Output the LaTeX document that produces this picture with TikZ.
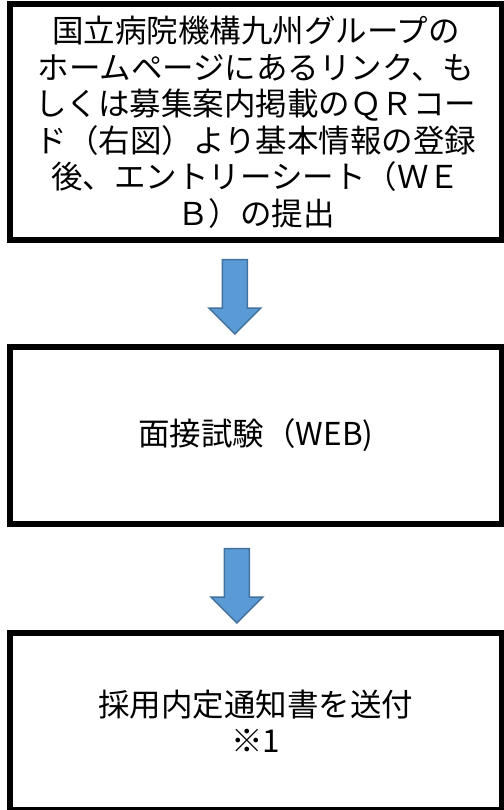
\documentclass[tikz,border=0pt]{standalone}
\usepackage{fontspec}
\newfontfamily\jpfont{Noto Sans CJK JP}
\usepackage{xcolor}
\definecolor{arrowblue}{HTML}{5B9BD5}
\definecolor{arrowedge}{HTML}{41719C}
\usetikzlibrary{positioning,calc}

\tikzset{
  stepbox/.style={draw=black, line width=6pt, rectangle, minimum width=492.3pt,
    align=center, inner sep=0pt, font={\jpfont\fontsize{31.5}{36.5}\selectfont}},
  blockarrow/.style={fill=arrowblue, draw=arrowedge, line width=1.5pt, line join=miter}
}

% block arrow from a start point (top of shaft) to the tip
\newcommand{\flowarrow}[2]{%
  \draw[blockarrow] ($(#1)+(-12.5,0)$) -- ($(#1)+(12.5,0)$) -- ($(#2)+(12.5,-26)$)
    -- ($(#2)+(26,-26)$) -- (#2) -- ($(#2)+(-26,-26)$) -- ($(#2)+(-12.5,-26)$) -- cycle;}

\begin{document}
\begin{tikzpicture}[x=1pt, y=-1pt]
				\useasboundingbox (0,0) rectangle (503,810);
				\node[stepbox, minimum height=235.2pt] (entry) at (255.85,122.1)
					{国立病院機構九州グループの\\ホームページにあるリンク、も\\しくは募集案内掲載のＱＲコー\\ド（右図）より基本情報の登録\\後、エントリーシート（ＷＥ\\Ｂ）の提出};
				\node[stepbox, minimum height=177pt] (interview) at (255.85,435.5) {面接試験（WEB)};
				\node[stepbox, minimum height=176.7pt] (notice) at (255.85,721.35) {採用内定通知書を送付\\※1};
				\coordinate (a1s) at ($(entry.south)+(-21,17)$);
				\coordinate (a1e) at ($(interview.north)+(-21,-10)$);
				\coordinate (a2s) at ($(interview.south)+(-19,21.5)$);
				\coordinate (a2e) at ($(notice.north)+(-19,-7)$);
				\flowarrow{a1s}{a1e}
				\flowarrow{a2s}{a2e}
			\end{tikzpicture}
\end{document}
